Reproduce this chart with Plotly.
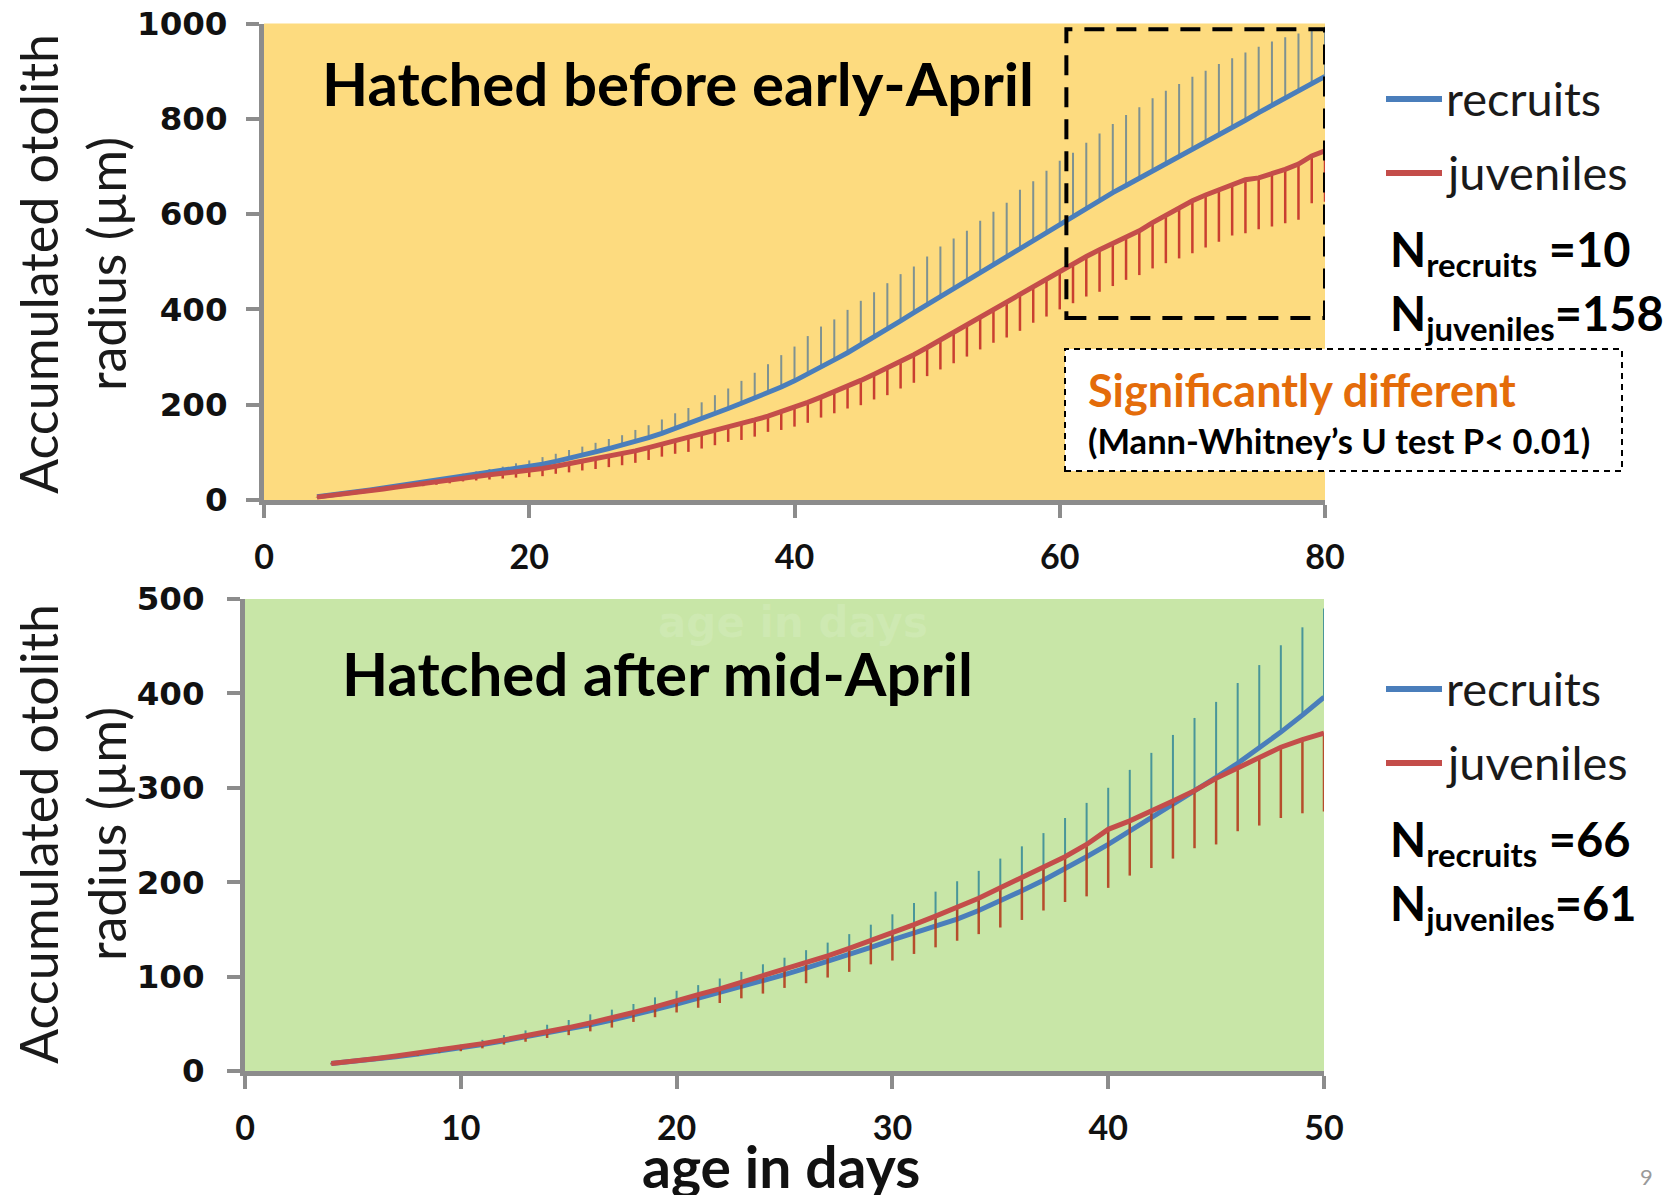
import plotly.graph_objects as go

W, H = 1675, 1195

# ---------------- data ----------------
days_top = list(range(4, 81))
recruits_top = [7, 10, 13, 17, 21, 25, 29, 33, 37, 41,
                45, 49, 53, 57, 61, 65, 70, 75, 81, 87,
                94, 101, 108, 115, 123, 131, 140, 150, 160, 170,
                181, 192, 203, 214, 225, 237, 250, 264, 279, 294,
                309, 325, 342, 359, 376, 393, 410, 427, 444, 461,
                478, 495, 512, 529, 546, 563, 580, 597, 613, 629,
                645, 660, 675, 691, 706, 721, 736, 752, 767, 782,
                797, 813, 828, 843, 859, 874, 889]
recruits_top_err = [1, 1, 2, 2, 3, 3, 3, 4, 4, 5,
                    5, 6, 7, 8, 9, 12, 13, 15, 16, 18,
                    18, 19, 20, 21, 24, 26, 29, 32, 33, 35,
                    39, 42, 47, 53, 60, 67, 72, 80, 85, 85,
                    90, 93, 94, 96, 98, 97, 101, 105, 105, 104,
                    108, 110, 112, 122, 123, 128, 132, 132, 137, 140,
                    144, 148, 149, 152, 153, 152, 152, 149, 148, 145,
                    142, 138, 134, 128, 120, 112, 104]
juveniles_top = [6, 9, 12, 15, 19, 23, 27, 31, 34, 38,
                 42, 47, 50, 53, 56, 59, 62, 66, 71, 76,
                 81, 86, 91, 97, 103, 110, 117, 124, 131, 138,
                 145, 152, 160, 168, 176, 185, 195, 205, 216, 227,
                 239, 251, 264, 277, 291, 305, 320, 336, 352, 368,
                 384, 400, 416, 432, 448, 464, 480, 497, 511, 525,
                 539, 552, 565, 582, 598, 614, 628, 640, 651, 662,
                 672, 676, 684, 694, 705, 722, 733]
juveniles_top_err = [1, 1, 2, 2, 3, 3, 4, 4, 5, 6,
                     7, 8, 9, 10, 11, 12, 14, 16, 16, 18,
                     19, 21, 22, 24, 25, 26, 26, 27, 30, 30,
                     30, 30, 34, 35, 33, 38, 41, 43, 43, 45,
                     47, 52, 53, 57, 57, 59, 60, 62, 65, 67,
                     68, 70, 75, 77, 76, 79, 80, 84, 84, 88,
                     90, 90, 93, 96, 101, 107, 110, 110, 109, 107,
                     112, 108, 110, 113, 117, 99, 107]

days_bot = list(range(4, 51))
recruits_bot = [8, 10, 13, 15, 18, 21, 24, 28, 32, 36,
                40, 44, 49, 54, 59, 65, 71, 77, 83, 89,
                96, 102, 109, 116, 123, 131, 139, 146, 153, 161,
                170, 180, 191, 202, 214, 227, 240, 254, 268, 282,
                296, 311, 326, 342, 359, 377, 396]
recruits_bot_err = [1, 2, 2, 3, 3, 4, 4, 5, 6, 7,
                    9, 10, 11, 11, 12, 13, 14, 14, 15, 16,
                    17, 18, 19, 20, 22, 24, 27, 32, 37, 40,
                    42, 45, 47, 50, 54, 57, 60, 65, 69, 74,
                    78, 80, 85, 88, 92, 93, 94]
juveniles_bot = [8, 10, 13, 16, 19, 22, 25, 29, 33, 37,
                 42, 46, 51, 56, 62, 68, 75, 81, 87, 94,
                 100, 107, 114, 122, 130, 138, 147, 155, 164, 173,
                 183, 194, 205, 216, 227, 240, 256, 265, 275, 286,
                 297, 310, 321, 332, 343, 351, 358]
juveniles_bot_err = [1, 1, 2, 2, 3, 3, 4, 5, 5, 6,
                     7, 8, 9, 10, 10, 11, 13, 14, 15, 17,
                     18, 19, 21, 23, 25, 25, 30, 31, 33, 35,
                     38, 42, 45, 46, 48, 55, 62, 58, 60, 61,
                     61, 70, 67, 72, 75, 78, 83]

top_xticks = [0, 20, 40, 60, 80]
top_yticks = [0, 200, 400, 600, 800, 1000]
bot_xticks = [0, 10, 20, 30, 40, 50]
bot_yticks = [0, 100, 200, 300, 400, 500]

n_top = {"recruits": 10, "juveniles": 158}
n_bot = {"recruits": 66, "juveniles": 61}

# ---------------- styles ----------------
BLUE = "#4A7EBB"
RED = "#C44D4A"
GRAY = "#8C8C8C"
YELLOW = "#FDDB7F"
GREEN = "#C8E6A7"
ORANGE = "#E46C0A"


def px(x, y):
    return x / W, 1 - y / H


fig = go.Figure()


def add_pair(days, rec, rec_err, juv, juv_err, xa, ya, blue_err_col, red_err_col):
    fig.add_trace(go.Scatter(
        x=days, y=rec, mode="lines", name="recruits", showlegend=False,
        line=dict(color=BLUE, width=5), xaxis=xa, yaxis=ya,
        error_y=dict(type="data", symmetric=False, array=rec_err,
                     arrayminus=[0] * len(rec_err), color=blue_err_col,
                     thickness=2, width=0)))
    fig.add_trace(go.Scatter(
        x=days, y=juv, mode="lines", name="juveniles", showlegend=False,
        line=dict(color=RED, width=5), xaxis=xa, yaxis=ya,
        error_y=dict(type="data", symmetric=False, array=[0] * len(juv_err),
                     arrayminus=juv_err, color=red_err_col,
                     thickness=2.5, width=0)))


add_pair(days_top, recruits_top, recruits_top_err, juveniles_top, juveniles_top_err,
         "x", "y", "rgba(95,128,150,0.8)", "rgba(195,45,40,0.9)")
add_pair(days_bot, recruits_bot, recruits_bot_err, juveniles_bot, juveniles_bot_err,
         "x2", "y2", "rgba(50,135,150,0.85)", "rgba(180,60,30,0.9)")

axis_common = dict(showline=True, linecolor=GRAY, linewidth=5, ticks="outside",
                   ticklen=13, tickwidth=4, tickcolor=GRAY, showgrid=False,
                   zeroline=False, mirror=False, automargin=False)
xfont = dict(family="Lato", size=34, color="#111111", weight="bold")
yfont = dict(family="DejaVu Sans", size=32.5, color="#111111", weight="bold")

fig.update_layout(
    width=W, height=H, margin=dict(l=0, r=0, t=0, b=0, autoexpand=False),
    paper_bgcolor="white", plot_bgcolor="rgba(0,0,0,0)", showlegend=False,
    xaxis=dict(domain=[264 / W, 1325 / W], anchor="y", range=[0, 80],
               tickvals=top_xticks, tickfont=xfont, ticklabelstandoff=10, **axis_common),
    yaxis=dict(domain=[1 - 500 / H, 1 - 23.5 / H], anchor="x", range=[0, 1000],
               tickvals=top_yticks, tickfont=yfont, ticklabelstandoff=12, **axis_common),
    xaxis2=dict(domain=[245 / W, 1324 / W], anchor="y2", range=[0, 50],
                tickvals=bot_xticks, tickfont=xfont, ticklabelstandoff=10, **axis_common),
    yaxis2=dict(domain=[1 - 1071 / H, 1 - 599 / H], anchor="x2", range=[0, 500],
                tickvals=bot_yticks, tickfont=yfont, ticklabelstandoff=16, **axis_common),
)

shapes = [
    dict(type="rect", xref="x domain", yref="y domain", x0=0, x1=1, y0=0, y1=1,
         fillcolor=YELLOW, line=dict(width=0), layer="below"),
    dict(type="rect", xref="x2 domain", yref="y2 domain", x0=0, x1=1, y0=0, y1=1,
         fillcolor=GREEN, line=dict(width=0), layer="below"),
    # highlighted region
    dict(type="rect", xref="x", yref="y", x0=60.5, x1=80, y0=382, y1=988,
         line=dict(color="black", width=4, dash="20px,12px"), fillcolor="rgba(0,0,0,0)"),
]
# significance box
bx0, by0 = px(1065, 471)
bx1, by1 = px(1622, 349)
shapes.append(dict(type="rect", xref="paper", yref="paper", x0=bx0, x1=bx1, y0=by0, y1=by1,
                   fillcolor="white", line=dict(color="black", width=2, dash="6px,5px")))

annotations = []


def legend_block(y_rec, y_juv, ns, y_n1, y_n2):
    for name, yy, col in [("recruits", y_rec, BLUE), ("juveniles", y_juv, RED)]:
        x0, y0 = px(1386, yy)
        x1, _ = px(1442, yy)
        shapes.append(dict(type="line", xref="paper", yref="paper", x0=x0, x1=x1, y0=y0, y1=y0,
                           line=dict(color=col, width=6)))
        tx, ty = px(1444, yy - 1)
        annotations.append(dict(xref="paper", yref="paper", x=tx, y=ty, xanchor="left",
                                yanchor="middle", showarrow=False, text=name,
                                font=dict(family="Lato", size=47, color="#1a1a1a")))
    for name, yy, sep in [("recruits", y_n1, " ="), ("juveniles", y_n2, "=")]:
        tx, ty = px(1388, yy)
        annotations.append(dict(xref="paper", yref="paper", x=tx, y=ty, xanchor="left",
                                yanchor="middle", showarrow=False,
                                text="N<sub>%s</sub>%s%d" % (name, sep, ns[name]),
                                font=dict(family="Lato", size=47, color="black", weight="bold")))


legend_block(99, 173, n_top, 252, 316)
legend_block(689, 763, n_bot, 842, 906)

# panel titles
for text, x, y in [("Hatched before early-April", 320, 83), ("Hatched after mid-April", 340, 673)]:
    ax, ay = px(x, y)
    annotations.append(dict(xref="paper", yref="paper", x=ax, y=ay, xanchor="left",
                            yanchor="middle", showarrow=False, text=text,
                            font=dict(family="Lato", size=60, color="black", weight="bold")))

# y-axis titles
for yc in [264, 834]:
    ax, ay = px(72, yc)
    annotations.append(dict(xref="paper", yref="paper", x=ax, y=ay, xanchor="center",
                            yanchor="middle", showarrow=False, textangle=-90,
                            text="Accumulated otolith<br>radius (µm)",
                            font=dict(family="Lato", size=52, color="#1a1a1a")))

# significance text
ax, ay = px(1086, 390)
annotations.append(dict(xref="paper", yref="paper", x=ax, y=ay, xanchor="left", yanchor="middle",
                        showarrow=False, text="Significantly different",
                        font=dict(family="Lato", size=45, color=ORANGE, weight="bold")))
ax, ay = px(1086, 441)
annotations.append(dict(xref="paper", yref="paper", x=ax, y=ay, xanchor="left", yanchor="middle",
                        showarrow=False, text="(Mann-Whitney’s U test P< 0.01)",
                        font=dict(family="Lato", size=34.5, color="black", weight="bold")))

# x-axis title
ax, ay = px(781, 1166)
annotations.append(dict(xref="paper", yref="paper", x=ax, y=ay, xanchor="center", yanchor="middle",
                        showarrow=False, text="age in days", borderpad=0,
                        font=dict(family="Lato", size=57, color="#111111", weight="bold")))
# faint ghost label inside bottom panel
ax, ay = px(793, 622)
annotations.append(dict(xref="paper", yref="paper", x=ax, y=ay, xanchor="center", yanchor="middle",
                        showarrow=False, text="age in days", borderpad=0,
                        font=dict(family="DejaVu Sans", size=42, color="rgba(255,255,255,0.12)",
                                  weight="bold")))
# page number
ax, ay = px(1646, 1176)
annotations.append(dict(xref="paper", yref="paper", x=ax, y=ay, xanchor="center", yanchor="middle",
                        showarrow=False, text="9",
                        font=dict(family="Lato", size=22, color="#9a9a9a")))

fig.update_layout(shapes=shapes, annotations=annotations)
fig.write_html("out.html")
